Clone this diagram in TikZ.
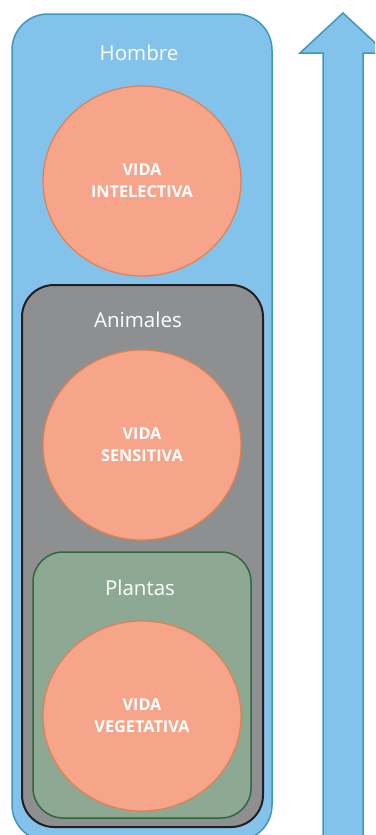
\documentclass[tikz,border=0pt]{standalone}
\usepackage{fontspec}
\setmainfont{Open Sans}
\usetikzlibrary{shapes.geometric}
\definecolor{bluefill}{HTML}{83C2EB}
\definecolor{bluedraw}{HTML}{3C98BF}
\definecolor{grayfill}{HTML}{8E8F91}
\definecolor{graydraw}{HTML}{231F20}
\definecolor{greenfill}{HTML}{8DA893}
\definecolor{greendraw}{HTML}{2D6A3B}
\definecolor{salmon}{HTML}{F6A58A}
\definecolor{salmondraw}{HTML}{E2804F}
\tikzset{
  bluebox/.style={fill=bluefill,draw=bluedraw,line width=1.5pt,rounded corners=36pt},
  graybox/.style={fill=grayfill,draw=graydraw,line width=2pt,rounded corners=32pt},
  greenbox/.style={fill=greenfill,draw=greendraw,line width=1.5pt,rounded corners=30pt},
  lifecirc/.style={ellipse,fill=salmon,draw=salmondraw,line width=1.2pt,minimum width=198pt,minimum height=190pt,inner sep=0pt,
    text=white,align=center,font=\fontsize{16.3}{22}\selectfont\bfseries},
  grouplabel/.style={anchor=base,text=white,inner sep=0pt,font=\fontsize{20.5}{24}\selectfont},
  uparrow/.style={fill=bluefill,draw=bluedraw,line width=1.5pt,line join=miter}
}
\begin{document}
\begin{tikzpicture}[x=1pt,y=-1pt]
\useasboundingbox (0,0) rectangle (375,835);
\clip (0,0) rectangle (375,835);
% arrow
\draw[uparrow] (323,845) -- (323,53) -- (300,53) -- (343,13) -- (386,53) -- (363,53) -- (363,845) -- cycle;
% boxes
\draw[bluebox] (12,14) rectangle (272,841);
\draw[graybox] (22,285) rectangle (263,827);
\draw[greenbox] (33,552) rectangle (251,818);
% labels
\node[grouplabel] (hombre) at (139,60) {Hombre};
\node[grouplabel] (animales) at (138,327) {Animales};
\node[grouplabel] (plantas) at (140,595) {Plantas};
% circles
\node[lifecirc] (intelectiva) at (142,181) {VIDA\\INTELECTIVA};
\node[lifecirc] (sensitiva) at (142,445) {VIDA\\SENSITIVA};
\node[lifecirc] (vegetativa) at (142,716) {VIDA\\VEGETATIVA};
\end{tikzpicture}
\end{document}
